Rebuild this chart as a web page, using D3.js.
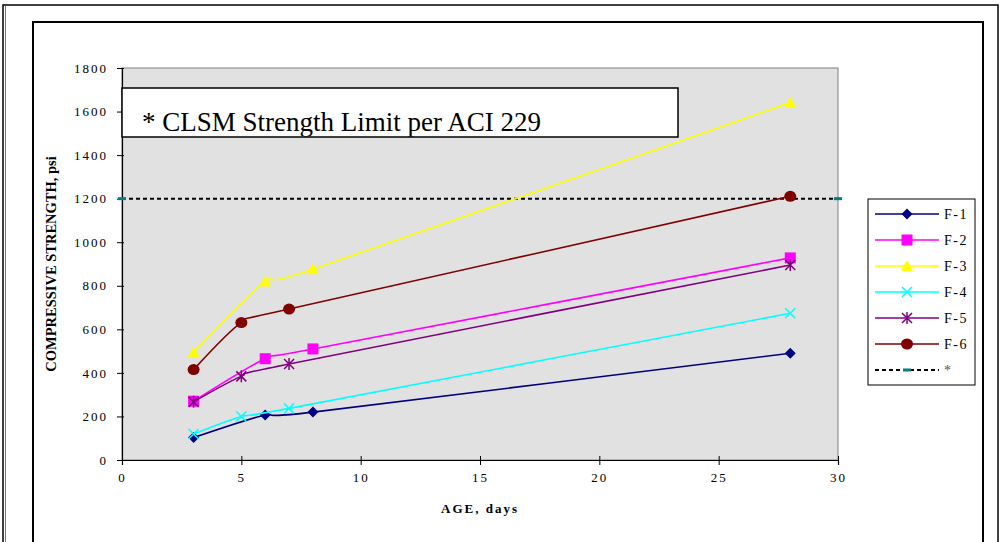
<!DOCTYPE html>
<html>
<head>
<meta charset="utf-8">
<script src="https://cdn.jsdelivr.net/npm/d3@7"></script>
<style>
  body { margin: 0; background: #fff; }
</style>
</head>
<body>
<svg id="chart" width="1000" height="542"></svg>
<script>
// data
const seriesNames = ["F-1", "F-2", "F-3", "F-4", "F-5", "F-6"];
const seriesColors = ["#000080", "#ff00ff", "#ffff00", "#00ffff", "#800080", "#800000"];
const seriesMarkers = ["diamond", "square", "triangle", "x", "star", "circle"];
const ages = [
  [3, 6, 8, 28],
  [3, 6, 8, 28],
  [3, 6, 8, 28],
  [3, 5, 7, 28],
  [3, 5, 7, 28],
  [3, 5, 7, 28]
];
const strengths = [
  [103, 207, 220, 490],
  [270, 465, 510, 928],
  [494, 820, 876, 1641],
  [119, 200, 237, 674],
  [267, 384, 441, 895],
  [415, 631, 693, 1211]
];
const limitAges = [0, 30];
const limitValue = 1200;
const xTicks = [0, 5, 10, 15, 20, 25, 30];
const yTicks = [0, 200, 400, 600, 800, 1000, 1200, 1400, 1600, 1800];

const SERIF = "Liberation Serif, Times New Roman, DejaVu Serif, serif";
const svg = d3.select("#chart").attr("font-family", SERIF);

// page + chart frames
svg.append("rect").attr("x", 3).attr("y", 5).attr("width", 995).attr("height", 560)
  .attr("fill", "none").attr("stroke", "#000").attr("stroke-width", 1.5);
svg.append("line").attr("x1", 5.5).attr("x2", 5.5).attr("y1", 6).attr("y2", 542)
  .attr("stroke", "#777").attr("stroke-width", 1);
svg.append("rect").attr("x", 33).attr("y", 22).attr("width", 950).attr("height", 560)
  .attr("fill", "#fff").attr("stroke", "#000").attr("stroke-width", 2);

const plot = { left: 122, right: 838, top: 68, bottom: 460 };
const x = d3.scaleLinear().domain([0, 30]).range([plot.left, plot.right]);
const y = d3.scaleLinear().domain([0, 1800]).range([plot.bottom, plot.top]);

svg.append("rect")
  .attr("x", plot.left).attr("y", plot.top)
  .attr("width", plot.right - plot.left).attr("height", plot.bottom - plot.top)
  .attr("fill", "#e1e1e1").attr("stroke", "#808080").attr("stroke-width", 1);

// axes
const xAxis = svg.append("g").attr("transform", `translate(0,${plot.bottom})`)
  .call(d3.axisBottom(x).tickValues(xTicks).tickFormat(d3.format("d")).tickSize(5).tickPadding(8));
const yAxis = svg.append("g").attr("transform", `translate(${plot.left},0)`)
  .call(d3.axisLeft(y).tickValues(yTicks).tickFormat(d3.format("d")).tickSize(5).tickPadding(9));
[xAxis, yAxis].forEach(g => {
  g.attr("font-family", SERIF).attr("font-size", 13);
  g.select(".domain").attr("stroke", "#000").attr("stroke-width", 1.2);
  g.selectAll(".tick line").attr("stroke", "#000").attr("stroke-width", 1);
  g.selectAll(".tick text").attr("font-family", SERIF)
    .style("letter-spacing", "2px").attr("fill", "#000");
});
// ticks cross the axis line
xAxis.selectAll(".tick line").attr("y1", -4).attr("y2", 5);
yAxis.selectAll(".tick line").attr("x1", 2).attr("x2", -5);

// axis titles
svg.append("text")
  .attr("transform", `translate(56,${(plot.top + plot.bottom) / 2}) rotate(-90)`)
  .attr("text-anchor", "middle").attr("font-weight", "bold").attr("font-size", 14.5)
  .text("COMPRESSIVE STRENGTH, psi");
svg.append("text")
  .attr("x", 480).attr("y", 513).attr("text-anchor", "middle")
  .attr("font-weight", "bold").attr("font-size", 13).style("letter-spacing", "2px")
  .text("AGE, days");

// note box
svg.append("clipPath").attr("id", "noteClip").append("rect")
  .attr("x", 122).attr("y", 88).attr("width", 556).attr("height", 48.5);
svg.append("rect").attr("x", 122).attr("y", 88).attr("width", 556).attr("height", 49)
  .attr("fill", "#fff").attr("stroke", "#000").attr("stroke-width", 1.5);
svg.append("text").attr("x", 142).attr("y", 131).attr("clip-path", "url(#noteClip)")
  .attr("font-size", 27).text("* CLSM Strength Limit per ACI 229");

// marker drawing
function drawMarker(g, type, color) {
  if (type === "diamond") {
    g.append("path").attr("d", "M0,-5.5L5.5,0L0,5.5L-5.5,0Z").attr("fill", color);
  } else if (type === "square") {
    g.append("rect").attr("x", -5.5).attr("y", -5.5).attr("width", 11).attr("height", 11).attr("fill", color);
  } else if (type === "triangle") {
    g.append("path").attr("d", "M0,-6L6,5L-6,5Z").attr("fill", color);
  } else if (type === "x") {
    g.append("path").attr("d", "M-5,-5L5,5M-5,5L5,-5").attr("stroke", color).attr("stroke-width", 1.5);
  } else if (type === "star") {
    g.append("path").attr("d", "M-5,-5L5,5M-5,5L5,-5M0,-6L0,6").attr("stroke", color).attr("stroke-width", 1.5);
  } else if (type === "circle") {
    g.append("ellipse").attr("rx", 6).attr("ry", 5.5).attr("fill", color);
  } else if (type === "dash") {
    g.append("rect").attr("x", -4).attr("y", -1.5).attr("width", 8).attr("height", 3).attr("fill", color);
  }
}

// limit line
svg.append("line")
  .attr("x1", x(limitAges[0])).attr("x2", x(limitAges[1]))
  .attr("y1", y(limitValue)).attr("y2", y(limitValue))
  .attr("stroke", "#000").attr("stroke-width", 2).attr("stroke-dasharray", "4,3");
limitAges.forEach(a => {
  drawMarker(svg.append("g").attr("transform", `translate(${x(a)},${y(limitValue)})`), "dash", "#008080");
});

// series (smoothed like the original)
const line = d3.line().x(d => x(d[0])).y(d => y(d[1])).curve(d3.curveCardinal.tension(0.3));
seriesNames.forEach((name, i) => {
  const pts = ages[i].map((a, j) => [a, strengths[i][j]]);
  svg.append("path").datum(pts).attr("d", line)
    .attr("fill", "none").attr("stroke", seriesColors[i]).attr("stroke-width", 1.6);
  pts.forEach(p => {
    drawMarker(svg.append("g").attr("transform", `translate(${x(p[0])},${y(p[1])})`), seriesMarkers[i], seriesColors[i]);
  });
});

// legend
const legend = svg.append("g");
legend.append("rect").attr("x", 868).attr("y", 199).attr("width", 107).attr("height", 186)
  .attr("fill", "#fff").attr("stroke", "#000").attr("stroke-width", 1);
const rowY = i => 214 + i * 26;
seriesNames.forEach((name, i) => {
  legend.append("line").attr("x1", 875).attr("x2", 939).attr("y1", rowY(i)).attr("y2", rowY(i))
    .attr("stroke", seriesColors[i]).attr("stroke-width", 1.6);
  drawMarker(legend.append("g").attr("transform", `translate(907,${rowY(i)})`), seriesMarkers[i], seriesColors[i]);
  legend.append("text").attr("x", 944).attr("y", rowY(i) + 5)
    .attr("font-size", 14).style("letter-spacing", "1.5px").text(name);
});
legend.append("line").attr("x1", 875).attr("x2", 939).attr("y1", rowY(6)).attr("y2", rowY(6))
  .attr("stroke", "#000").attr("stroke-width", 2).attr("stroke-dasharray", "4,3");
drawMarker(legend.append("g").attr("transform", `translate(907,${rowY(6)})`), "dash", "#008080");
legend.append("text").attr("x", 944).attr("y", rowY(6) + 5)
  .attr("font-size", 14).attr("fill", "#555").text("*");
</script>
</body>
</html>
